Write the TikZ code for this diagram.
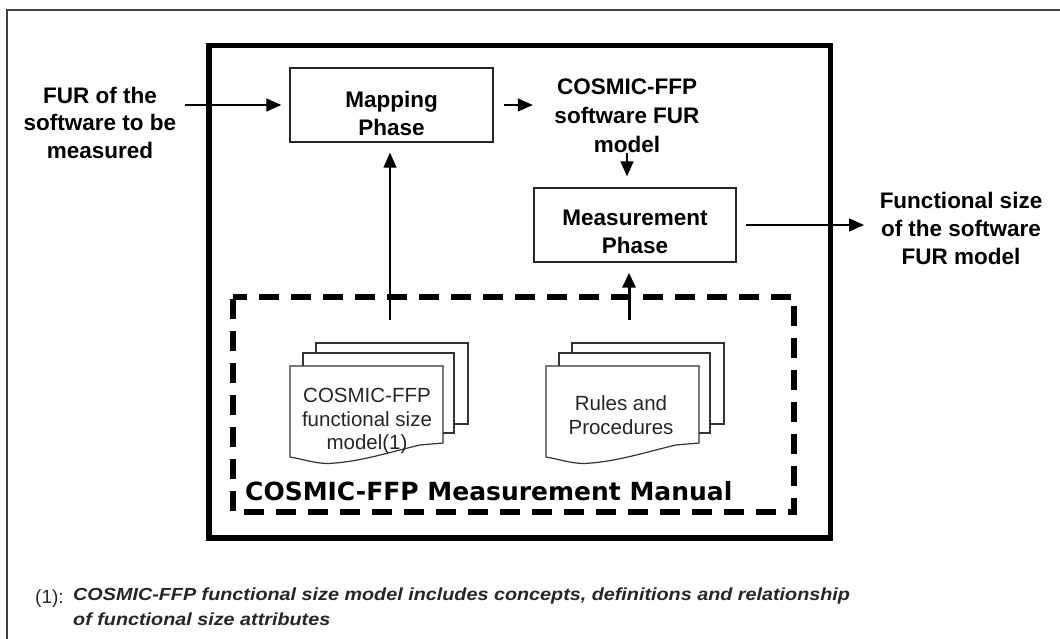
\documentclass[tikz,border=0pt]{standalone}
\usepackage{fontspec}
\setmainfont{Liberation Sans}
\newfontfamily\manualfont{DejaVu Sans}
\usetikzlibrary{arrows.meta}

% stack of three pages, front page top-left corner at (#1,#2)
\newcommand\docstack[2]{%
  \begin{scope}[shift={(#1,#2)}]
    \draw[page] (26,-23) rectangle (178,58);
    \draw[page] (13,-13) rectangle (164,67);
    \draw[page] (0,0) -- (153,0) -- (153,77) -- (130,79)
      .. controls (100,86) and (70,96) .. (38,97.5)
      .. controls (25,97.5) and (12,93) .. (0,91) -- cycle;
  \end{scope}}

\begin{document}
\begin{tikzpicture}[x=1pt,y=-1pt,
  lbl/.style={font=\fontsize{22.5}{28}\selectfont\bfseries, align=center, inner sep=0pt},
  phasebox/.style={draw=black!85, line width=1.4pt, minimum height=74pt, inner sep=0pt},
  doctxt/.style={font=\fontsize{20.5}{23.5}\selectfont, align=center, inner sep=0pt, text=black!85},
  arr/.style={-{Triangle[length=15pt,width=13pt]}, line width=1.3pt},
  page/.style={draw=black!80, fill=white, line width=1.2pt},
  fnote/.style={font=\fontsize{17.5}{25}\selectfont\bfseries\itshape, anchor=base west, inner sep=0pt, text=black!85},
]
\useasboundingbox (0,0) rectangle (1060,639);
\fill[white] (0,0) rectangle (1060,639);

% page frame
\draw[black!75, line width=2pt] (7,639) -- (7,10) -- (1060,10);

% measurement method boundary
\draw[line width=5.5pt] (209,45.5) rectangle (830.5,538);

% measurement manual (dashed)
\draw[line width=6pt, dash pattern=on 20pt off 12pt, dash phase=6pt]
  (233,296.5) -- (793.5,296.5) -- (793.5,512) -- (233,512) -- cycle;

% phases
\node[phasebox, minimum width=203pt] (map) at (391.5,105) {};
\node[lbl] (maptxt) at (391.5,113) {Mapping\\Phase};
\node[phasebox, minimum width=202pt] (meas) at (635,225) {};
\node[lbl] (meastxt) at (635,231.5) {Measurement\\Phase};

% inputs and outputs
\node[lbl, font=\fontsize{22.5}{27.5}\selectfont\bfseries] (fur) at (100,122.5) {FUR of the\\software to be\\measured};
\node[lbl, font=\fontsize{22.5}{29}\selectfont\bfseries] (cfur) at (627,116) {COSMIC-FFP\\software FUR\\model};
\node[lbl] (out) at (961,228.5) {Functional size\\of the software\\FUR model};

% manual documents
\docstack{290}{366}
\docstack{546}{366}
\node[doctxt] (fsm) at (367,421) {COSMIC-FFP\\functional size\\model(1)};
\node[doctxt, font=\fontsize{20.5}{24}\selectfont] (rules) at (621,415.5) {Rules and\\Procedures};
\node[font=\manualfont\bfseries\fontsize{25}{30}\selectfont, anchor=base west, inner sep=0pt]
  (manual) at (245,500) {COSMIC-FFP Measurement Manual};

% flows
\draw[arr, shorten <=9pt, shorten >=8pt] (fur.east |- map.west) -- (map.west);
\draw[arr, shorten <=10pt, shorten >=21.5pt] (map.east) -- (map.east -| cfur.west);
\draw[arr, shorten >=11pt] (cfur.south) -- (cfur.south |- meas.north);
\draw[arr, shorten <=9pt, shorten >=15.5pt] (meas.east) -- (meas.east -| out.west);
\coordinate (srcA) at (390,320);
\coordinate (srcB) at (629,320);
\draw[arr, shorten >=10pt] (srcA) -- (srcA |- map.south);
\draw[arr, line width=3pt, shorten >=10pt] (srcB) -- (srcB |- meas.south);

% footnote
\node[font=\fontsize{19}{25}\selectfont, anchor=base west, inner sep=0pt, text=black!85] (fnmark) at (35,603) {(1):};
\node[fnote] (fn1) at (73,600) {\scalebox{1.13}[1]{COSMIC-FFP functional size model includes concepts, definitions and relationship}};
\node[fnote] (fn2) at (73,625) {\scalebox{1.13}[1]{of functional size attributes}};
\end{tikzpicture}
\end{document}
